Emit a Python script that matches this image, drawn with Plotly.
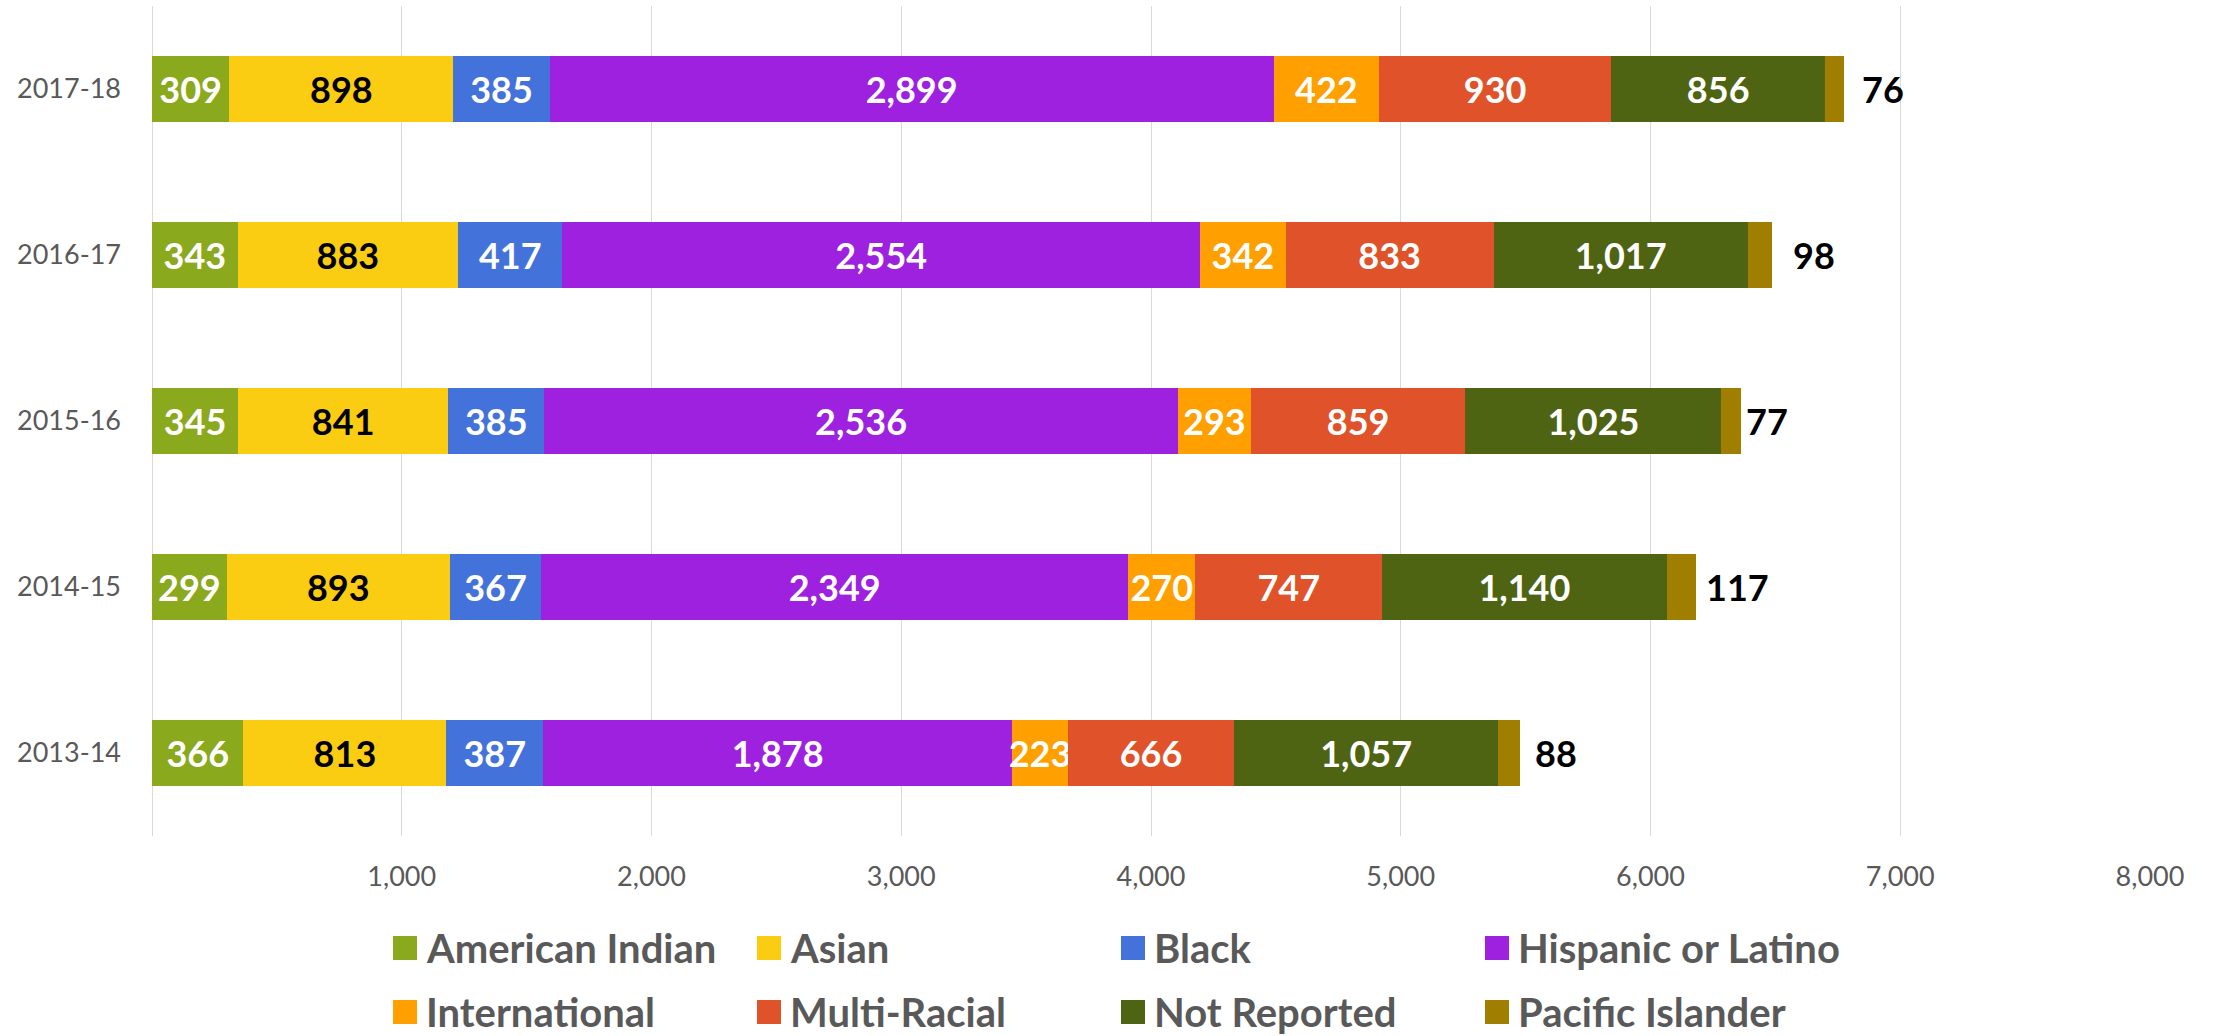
import plotly.graph_objects as go

# ---------------- data ----------------
years = ["2013-14", "2014-15", "2015-16", "2016-17", "2017-18"]
series_names = ["American Indian", "Asian", "Black", "Hispanic or Latino",
                "International", "Multi-Racial", "Not Reported", "Pacific Islander"]
american_indian = [366, 299, 345, 343, 309]
asian = [813, 893, 841, 883, 898]
black = [387, 367, 385, 417, 385]
hispanic = [1878, 2349, 2536, 2554, 2899]
international = [223, 270, 293, 342, 422]
multi_racial = [666, 747, 859, 833, 930]
not_reported = [1057, 1140, 1025, 1017, 856]
pacific_islander = [88, 117, 77, 98, 76]
x_tick_values = [1000, 2000, 3000, 4000, 5000, 6000, 7000, 8000]

series_values = [american_indian, asian, black, hispanic,
                 international, multi_racial, not_reported, pacific_islander]

# ---------------- styles ----------------
colors = ["#8BA91D", "#FACC12", "#4472DB", "#9E21E0",
          "#FF9F00", "#E0532A", "#4E6412", "#A07E00"]
label_colors = ["white", "black", "white", "white", "white", "white", "white", "black"]
pacific_label_shift = [13, 8, 3, 19, 16]  # px, per year (Excel-style placement)

W, H = 2216, 1036
L, R, T, B = 152, 66, 6, 200
PW, PH = W - L - R, H - T - B
FONT = "Lato"
GREY = "#595959"


def px_x(px):
    return (px - L) / PW


def px_y(py):
    return (H - B - py) / PH


fig = go.Figure()
for i, (name, vals) in enumerate(zip(series_names, series_values)):
    is_last = i == len(series_names) - 1
    fig.add_trace(go.Bar(
        y=years, x=vals, name=name, orientation="h",
        marker=dict(color=colors[i], line=dict(width=0)),
        text=[f"{v:,}" for v in vals],
        textposition="none" if is_last else "inside",
        insidetextanchor="middle",
        textangle=0,
        constraintext="none",
        insidetextfont=dict(family=FONT, size=36, color=label_colors[i], weight="bold"),
        showlegend=False,
        hoverinfo="skip",
    ))

# Pacific Islander labels placed just beyond the bar end
totals = [sum(s[j] for s in series_values) for j in range(len(years))]
for j, yr in enumerate(years):
    fig.add_annotation(
        x=totals[j], y=yr, xref="x", yref="y",
        text=f"{pacific_islander[j]:,}", showarrow=False,
        xanchor="left", yanchor="middle", xshift=pacific_label_shift[j],
        font=dict(family=FONT, size=36, color="black", weight="bold"),
    )

# Manual legend (2 rows x 4 columns)
leg_x0, leg_dx = 393, 364
leg_rows = [948, 1012]
sq = 24
for i, name in enumerate(series_names):
    col, row = i % 4, i // 4
    mx = leg_x0 + col * leg_dx
    cy = leg_rows[row]
    fig.add_shape(type="rect", xref="paper", yref="paper",
                  x0=px_x(mx), x1=px_x(mx + sq),
                  y0=px_y(cy + sq / 2), y1=px_y(cy - sq / 2),
                  fillcolor=colors[i], line=dict(width=0), layer="above")
    fig.add_annotation(x=px_x(mx + 32), y=px_y(cy), xref="paper", yref="paper",
                       text=name, showarrow=False, xanchor="left", yanchor="middle",
                       borderpad=0,
                       font=dict(family=FONT, size=40, color=GREY, weight="bold"))

fig.update_layout(
    width=W, height=H,
    margin=dict(l=L, r=R, t=T, b=B, autoexpand=False),
    barmode="stack", bargap=0.6,
    plot_bgcolor="white", paper_bgcolor="white",
    showlegend=False,
    font=dict(family=FONT, color=GREY),
    xaxis=dict(range=[0, 8000], tickvals=x_tick_values, tickformat=",d",
               showgrid=True, gridcolor="#D9D9D9", gridwidth=1,
               zeroline=True, zerolinecolor="#D9D9D9", zerolinewidth=1,
               showline=False, ticks="", ticklabelstandoff=22,
               tickfont=dict(family=FONT, size=27, color=GREY), fixedrange=True),
    yaxis=dict(categoryorder="array", categoryarray=years,
               showgrid=False, zeroline=False, showline=False, ticks="",
               ticklabelstandoff=30,
               tickfont=dict(family=FONT, size=27, color=GREY), fixedrange=True),
)

fig.write_html(
    "out.html",
    config={"displayModeBar": False},
    post_script="document.body.style.margin='0';document.body.style.overflow='hidden';",
)
